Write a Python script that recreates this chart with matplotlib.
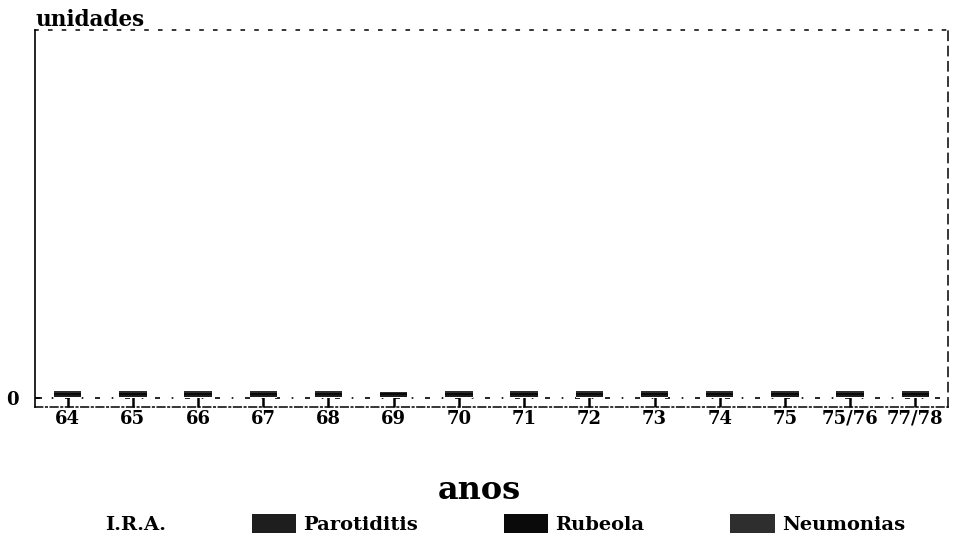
import matplotlib.pyplot as plt
import matplotlib.patches as mpatches
import numpy as np

# categories (years) and series values in "unidades" (all near zero in the scan)
anos = ["64", "65", "66", "67", "68", "69", "70", "71", "72", "73", "74", "75", "75/76", "77/78"]
ira = [0.3, 0.3, 0.3, 0.3, 0.3, 0.3, 0.3, 0.3, 0.3, 0.3, 0.3, 0.3, 0.3, 0.3]
parotiditis = [0.5, 0.5, 0.5, 0.5, 0.4, 0.4, 0.5, 0.5, 0.4, 0.5, 0.5, 0.5, 0.4, 0.5]
rubeola = [0.6, 0.6, 0.6, 0.6, 0.6, 0.6, 0.6, 0.6, 0.6, 0.6, 0.6, 0.6, 0.6, 0.6]
neumonias = [0.5, 0.4, 0.5, 0.5, 0.5, 0.4, 0.5, 0.5, 0.5, 0.5, 0.5, 0.5, 0.5, 0.5]

series = [("I.R.A.", ira, "white"),
          ("Parotiditis", parotiditis, "#1e1e1e"),
          ("Rubeola", rubeola, "#0a0a0a"),
          ("Neumonias", neumonias, "#2e2e2e")]

font = {"family": "DejaVu Serif", "weight": "bold"}

fig = plt.figure(figsize=(9.59, 5.48), dpi=100)
ax = fig.add_axes([0.0365, 0.2573, 0.952, 0.688])

x = np.arange(len(anos))
bottom = np.zeros(len(anos))
for name, vals, col in series:
    ax.bar(x, vals, 0.42, bottom=bottom, color=col, edgecolor="none", zorder=3)
    bottom += np.array(vals)

ax.axhline(0, color="black", lw=1.2, ls=(0, (3, 7, 1, 7)), zorder=2)

ax.set_xlim(-0.5, len(anos) - 0.5)
ax.set_ylim(-2.45, 100)
ax.set_xticks(x)
ax.set_xticklabels(anos, fontdict=font, fontsize=13)
ax.set_yticks([0])
ax.set_yticklabels(["0"], fontdict=font, fontsize=13)
ax.tick_params(axis="x", direction="in", length=7, width=1.8, pad=2)
ax.tick_params(axis="y", direction="in", length=5, width=1.2, pad=12)

ax.spines["left"].set_linewidth(1.2)
for s, style in [("top", (0, (2, 7))), ("right", (0, (6, 4))), ("bottom", (0, (5, 2, 1, 2)))]:
    ax.spines[s].set_linestyle(style)
    ax.spines[s].set_linewidth(1.1)

fig.text(0.0365, 0.952, "unidades", fontsize=15.5, **font)
fig.text(0.5, 0.09, "anos", ha="center", fontsize=23, **font)

handles = [mpatches.Patch(facecolor=col, edgecolor="none", hatch=None if col == "white" else "..")
           for _, _, col in series]
labels = [name for name, _, _ in series]
leg = fig.legend(handles, labels, loc="center", bbox_to_anchor=(0.4995, 0.043), ncol=4,
                 frameon=False, prop={"family": "DejaVu Serif", "weight": "bold", "size": 14},
                 handlelength=2.3, handleheight=1.1, columnspacing=4.4, handletextpad=0.36)

fig.savefig("out.png", dpi=100)
